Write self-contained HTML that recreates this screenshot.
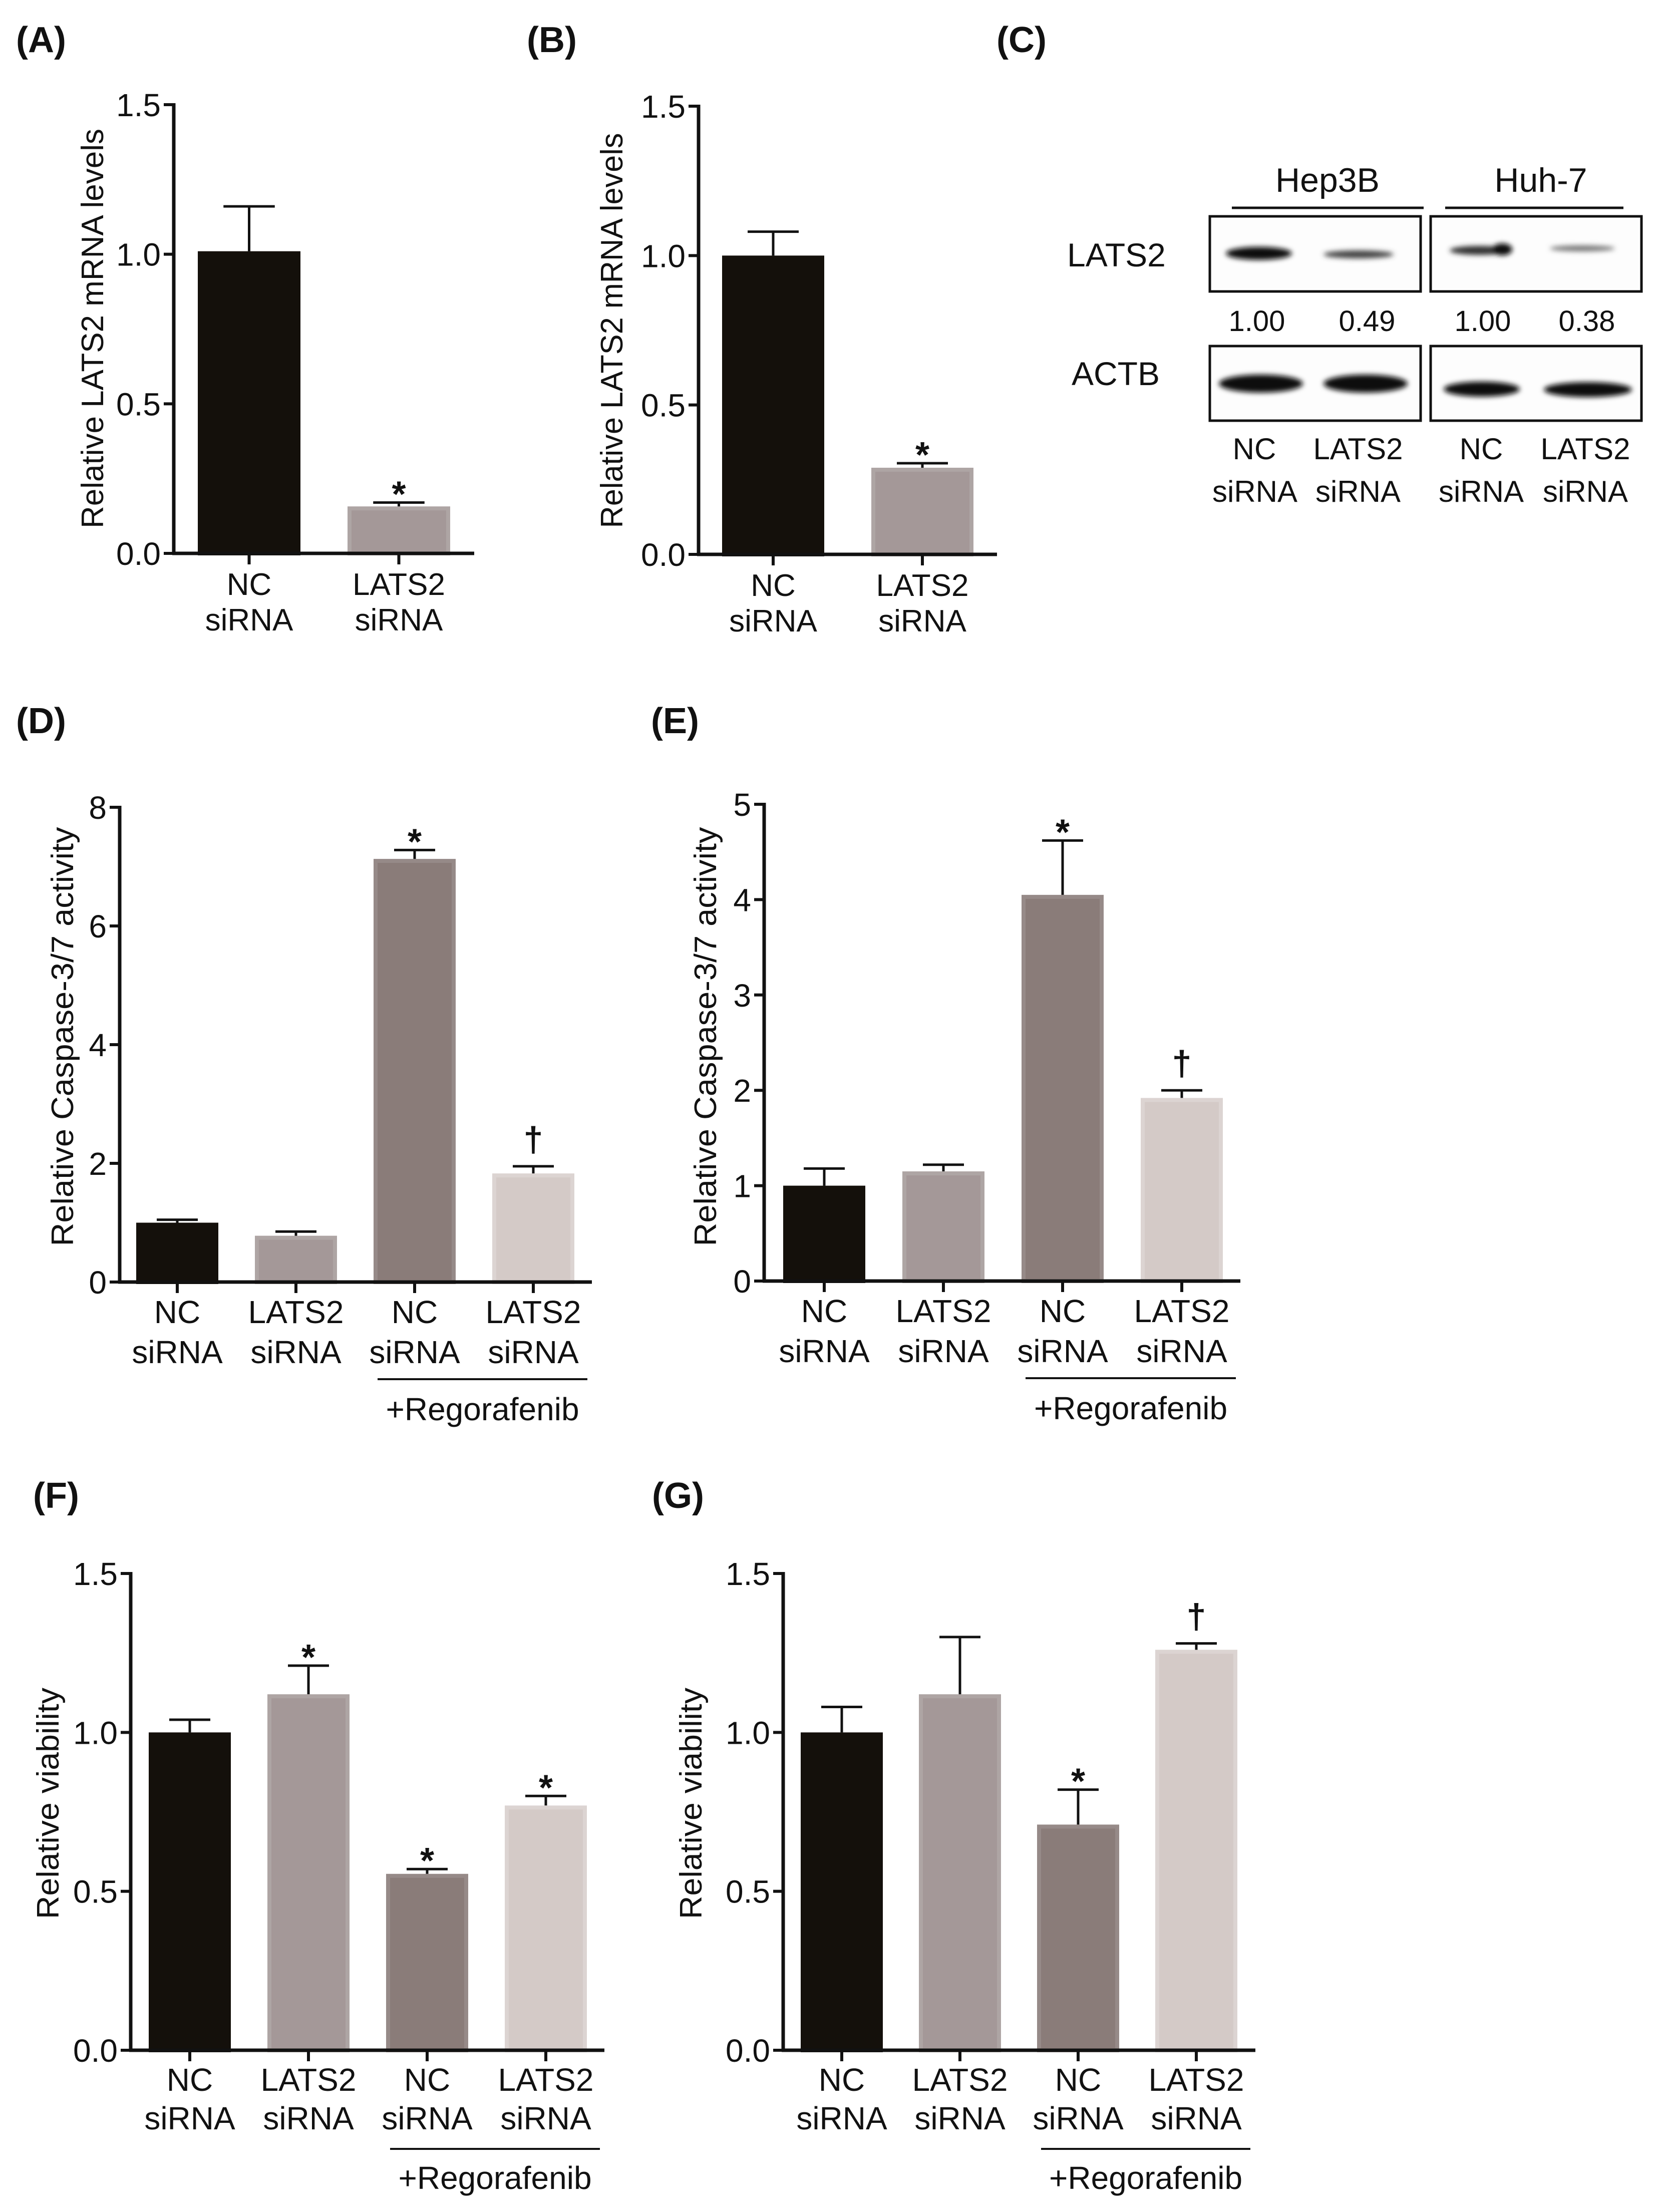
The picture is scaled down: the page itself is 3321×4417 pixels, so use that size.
<!DOCTYPE html>
<html><head><meta charset="utf-8"><title>LATS2 knockdown figure</title>
<style>
html,body{margin:0;padding:0;background:#fff;}
svg{display:block;}
text{font-family:"Liberation Sans",Arial,sans-serif;fill:#111;}
</style></head>
<body>
<svg id="fig" width="3321" height="4417" viewBox="0 0 3321 4417" xmlns="http://www.w3.org/2000/svg">
<defs>
<filter id="blur" x="-20%" y="-100%" width="140%" height="300%"><feGaussianBlur stdDeviation="5"/></filter>
</defs>
<g id="panelLabels">
<text x="32" y="104" font-size="72" font-weight="bold">(A)</text>
<text x="1052" y="104" font-size="72" font-weight="bold">(B)</text>
<text x="1990" y="104" font-size="72" font-weight="bold">(C)</text>
<text x="32" y="1464" font-size="72" font-weight="bold">(D)</text>
<text x="1300" y="1464" font-size="72" font-weight="bold">(E)</text>
<text x="66" y="3011" font-size="72" font-weight="bold">(F)</text>
<text x="1302" y="3011" font-size="72" font-weight="bold">(G)</text>
</g>
<g id="blot">
<text x="2651" y="383" font-size="68" text-anchor="middle">Hep3B</text>
<line x1="2460" y1="415" x2="2843" y2="415" stroke="#111" stroke-width="5"/>
<text x="3077" y="383" font-size="68" text-anchor="middle">Huh-7</text>
<line x1="2886" y1="415" x2="3242" y2="415" stroke="#111" stroke-width="5"/>
<text x="2131" y="532" font-size="66">LATS2</text>
<text x="2140" y="769" font-size="66">ACTB</text>
<rect x="2416" y="432" width="421" height="150" fill="#fdfdfd" stroke="#111" stroke-width="5"/>
<rect x="2857" y="432" width="421" height="150" fill="#fdfdfd" stroke="#111" stroke-width="5"/>
<rect x="2416" y="691" width="421" height="149" fill="#fdfdfd" stroke="#111" stroke-width="5"/>
<rect x="2857" y="691" width="421" height="149" fill="#fdfdfd" stroke="#111" stroke-width="5"/>
<g filter="url(#blur)">
<ellipse cx="2514" cy="506" rx="66" ry="13" fill="#111"/>
<ellipse cx="2713" cy="508" rx="70" ry="8" fill="#444"/>
<ellipse cx="2955" cy="500" rx="60" ry="9" fill="#333"/>
<ellipse cx="3000" cy="498" rx="20" ry="12" fill="#111"/>
<ellipse cx="3160" cy="496" rx="65" ry="6" fill="#777"/>
<ellipse cx="2518" cy="766" rx="84" ry="18" fill="#0a0a0a"/>
<ellipse cx="2727" cy="766" rx="84" ry="18" fill="#0a0a0a"/>
<ellipse cx="2959" cy="777" rx="76" ry="15" fill="#0a0a0a"/>
<ellipse cx="3171" cy="778" rx="88" ry="15" fill="#0a0a0a"/>
</g>
<text x="2510" y="661" font-size="58" text-anchor="middle">1.00</text>
<text x="2730" y="661" font-size="58" text-anchor="middle">0.49</text>
<text x="2961" y="661" font-size="58" text-anchor="middle">1.00</text>
<text x="3169" y="661" font-size="58" text-anchor="middle">0.38</text>
<g font-size="60" text-anchor="middle">
<text x="2505" y="917">NC</text>
<text x="2506" y="1002">siRNA</text>
<text x="2712" y="917">LATS2</text>
<text x="2712" y="1002">siRNA</text>
<text x="2958" y="917">NC</text>
<text x="2958" y="1002">siRNA</text>
<text x="3166" y="917">LATS2</text>
<text x="3166" y="1002">siRNA</text>
</g>
</g>
</svg>
<script>
// ---- data ----
const catsTwo = ["NC siRNA", "LATS2 siRNA"];
const catsFour = ["NC siRNA", "LATS2 siRNA", "NC siRNA", "LATS2 siRNA"];
const aValues = [1.01, 0.157];
const aErrors = [1.16, 0.17];
const aMarks = ["", "*"];
const bValues = [1.0, 0.29];
const bErrors = [1.08, 0.305];
const bMarks = ["", "*"];
const dValues = [1.0, 0.78, 7.13, 1.83];
const dErrors = [1.05, 0.85, 7.28, 1.95];
const dMarks = ["", "", "*", "†"];
const eValues = [1.0, 1.15, 4.05, 1.92];
const eErrors = [1.18, 1.22, 4.62, 2.0];
const eMarks = ["", "", "*", "†"];
const fValues = [1.0, 1.12, 0.555, 0.77];
const fErrors = [1.04, 1.21, 0.57, 0.80];
const fMarks = ["", "*", "*", "*"];
const gValues = [1.0, 1.12, 0.71, 1.26];
const gErrors = [1.08, 1.30, 0.82, 1.28];
const gMarks = ["", "", "*", "†"];
const ticksMrna = [0, 0.5, 1.0, 1.5];
const tickLabelsMrna = ["0.0", "0.5", "1.0", "1.5"];
const ticksCasD = [0, 2, 4, 6, 8];
const tickLabelsCasD = ["0", "2", "4", "6", "8"];
const ticksCasE = [0, 1, 2, 3, 4, 5];
const tickLabelsCasE = ["0", "1", "2", "3", "4", "5"];

const NS = "http://www.w3.org/2000/svg";
const svg = document.getElementById("fig");
const fills = ["#14100b", "#a49898", "#8a7c79", "#d4cac7"];
const edges = ["#14100b", "#aea5a4", "#968a88", "#dcd4d2"];

function mk(tag, attrs, parent) {
  const e = document.createElementNS(NS, tag);
  for (const k in attrs) e.setAttribute(k, attrs[k]);
  parent.appendChild(e);
  return e;
}

function chart(id, L, cats, values, errors, marks, ticks, tickLabels, yTitle, regor) {
  const g = mk("g", {}, svg);
  
  
  const maxV = ticks[ticks.length - 1];
  const y = v => L.y0 - (v / maxV) * (L.y0 - L.top);
  const xb = i => L.ax + L.pad + i * L.step;
  values.forEach((v, i) => {
    const r = mk("rect", {x: xb(i) + 4, y: y(v) + 4, width: L.bw - 8, height: L.y0 - y(v) - 4, fill: fills[i], stroke: edges[i], "stroke-width": 8}, g);
    
    
    const cx = xb(i) + L.bw / 2;
    const eb = mk("path", {d: `M${cx},${y(v)} V${y(errors[i])} M${cx - L.bw / 4},${y(errors[i])} H${cx + L.bw / 4}`, stroke: "#111", "stroke-width": 5, fill: "none"}, g);
    
    
    if (marks[i]) {
      const dag = marks[i] === "†";
      const t = mk("text", {x: cx, y: dag ? y(errors[i]) - 30 : y(errors[i]) + 8, "font-size": dag ? 70 : 72, "text-anchor": "middle", "font-weight": "bold"}, g);
      t.textContent = marks[i];
      
      
    }
    const xt = mk("line", {x1: cx, x2: cx, y1: L.y0, y2: L.y0 + 22, stroke: "#111", "stroke-width": 6}, g);
    
    
    const parts = cats[i].split(" ");
    parts.forEach((p, j) => {
      const t = mk("text", {x: cx, y: L.y0 + L.c1 + j * L.lh, "font-size": L.cf, "text-anchor": "middle"}, g);
      t.textContent = p;
      
      
    });
  });
  const ya = mk("line", {x1: L.ax, x2: L.ax, y1: L.top - 3, y2: L.y0 + 3, stroke: "#111", "stroke-width": 7}, g);
  
  
  const xa = mk("line", {x1: L.ax - 3, x2: L.xEnd, y1: L.y0, y2: L.y0, stroke: "#111", "stroke-width": 7}, g);
  
  
  ticks.forEach((tv, k) => {
    const tl = mk("line", {x1: L.ax - 20, x2: L.ax, y1: y(tv), y2: y(tv), stroke: "#111", "stroke-width": 6}, g);
    
    
    const t = mk("text", {x: L.ax - 26, y: y(tv) + 23, "font-size": 64, "text-anchor": "end"}, g);
    t.textContent = tickLabels[k];
    
    
  });
  const yt = mk("text", {x: 0, y: 0, "font-size": 62, "text-anchor": "middle", textLength: L.tl, lengthAdjust: "spacingAndGlyphs", transform: `translate(${L.tx + 22},${L.ty}) rotate(-90)`}, g);
  yt.textContent = yTitle;
  
  
  if (regor) {
    const x1 = xb(2) + 8, x2 = xb(3) + L.bw + 26;
    const rl = mk("line", {x1: x1, x2: x2, y1: L.y0 + L.rl, y2: L.y0 + L.rl, stroke: "#111", "stroke-width": 4}, g);
    
    
    const rt = mk("text", {x: (x1 + x2) / 2, y: L.y0 + L.rt, "font-size": 64, "text-anchor": "middle"}, g);
    rt.textContent = "+Regorafenib";
    
    
  }
}

const mrnaTitle = "Relative LATS2 mRNA levels";
const casTitle = "Relative Caspase-3/7 activity";
const viaTitle = "Relative viability";
chart("a", {ax: 347, y0: 1105, top: 209, xEnd: 947, pad: 48, step: 299, bw: 205, tx: 184, ty: 656, tl: 798, c1: 83, lh: 71, cf: 62}, catsTwo, aValues, aErrors, aMarks, ticksMrna, tickLabelsMrna, mrnaTitle, false);
chart("b", {ax: 1395, y0: 1107, top: 212, xEnd: 1991, pad: 47, step: 298, bw: 204, tx: 1221, ty: 660, tl: 789, c1: 83, lh: 71, cf: 62}, catsTwo, bValues, bErrors, bMarks, ticksMrna, tickLabelsMrna, mrnaTitle, false);
chart("d", {ax: 239, y0: 2560, top: 1612, xEnd: 1182, pad: 33, step: 237, bw: 164, tx: 124, ty: 2070, tl: 837, c1: 82, lh: 80, cf: 64, rl: 194, rt: 276}, catsFour, dValues, dErrors, dMarks, ticksCasD, tickLabelsCasD, casTitle, true);
chart("e", {ax: 1526, y0: 2558, top: 1606, xEnd: 2477, pad: 38, step: 238, bw: 164, tx: 1408, ty: 2070, tl: 837, c1: 82, lh: 80, cf: 64, rl: 194, rt: 276}, catsFour, eValues, eErrors, eMarks, ticksCasE, tickLabelsCasE, casTitle, true);
chart("f", {ax: 261, y0: 4094, top: 3142, xEnd: 1207, pad: 36, step: 237, bw: 164, tx: 95, ty: 3601, tl: 462, c1: 81, lh: 77, cf: 64, rl: 197, rt: 277}, catsFour, fValues, fErrors, fMarks, ticksMrna, tickLabelsMrna, viaTitle, true);
chart("g", {ax: 1564, y0: 4094, top: 3142, xEnd: 2507, pad: 35, step: 236, bw: 164, tx: 1379, ty: 3601, tl: 462, c1: 81, lh: 77, cf: 64, rl: 197, rt: 277}, catsFour, gValues, gErrors, gMarks, ticksMrna, tickLabelsMrna, viaTitle, true);
</script>
</body></html>
